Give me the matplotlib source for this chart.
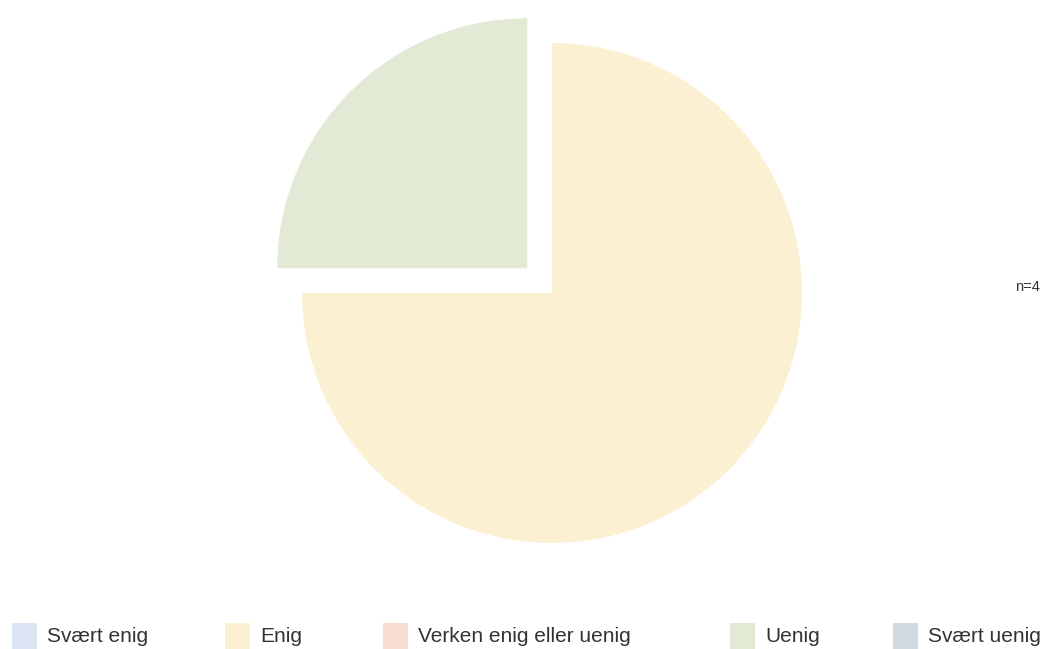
import matplotlib
matplotlib.use("Agg")
import matplotlib.pyplot as plt
from matplotlib.patches import Rectangle

plt.rcParams['font.family'] = ['Liberation Sans', 'DejaVu Sans']

categories = ["Svært enig", "Enig", "Verken enig eller uenig", "Uenig", "Svært uenig"]
counts = [0, 3, 0, 1, 0]
colors = ["#dce3f2", "#fcf0d3", "#f7ddd0", "#e2ead5", "#d3d9e3"]
explode_frac = [0, 0, 0, 0.14, 0]
n_label = "n=4"

W, H = 1057, 649
fig = plt.figure(figsize=(W / 100, H / 100), dpi=100)
ax = fig.add_axes([0, 0, 1, 1])
ax.set_xlim(0, W)
ax.set_ylim(0, H)
ax.set_aspect("equal")
ax.axis("off")

# Pie in pixel-sized data units, clockwise from 12 o'clock
radius = 250
ax.pie(counts, colors=colors, explode=[e * radius for e in explode_frac],
       startangle=90, counterclock=False, center=(552, H - 293), radius=radius,
       wedgeprops=dict(linewidth=0))
ax.set_xlim(0, W)
ax.set_ylim(0, H)

ax.text(1040, H - 287, n_label, ha="right", va="center", fontsize=10.5, color="#333333")

# Legend row along the bottom
patch_x = [12, 225, 383, 730, 893]
for x, label, c in zip(patch_x, categories, colors):
    ax.add_patch(Rectangle((x, 0), 25, 26, facecolor=c, edgecolor="none"))
    ax.text(x + 35, 13, label, ha="left", va="center", fontsize=15, color="#333333")

fig.savefig("out.png", dpi=100)
